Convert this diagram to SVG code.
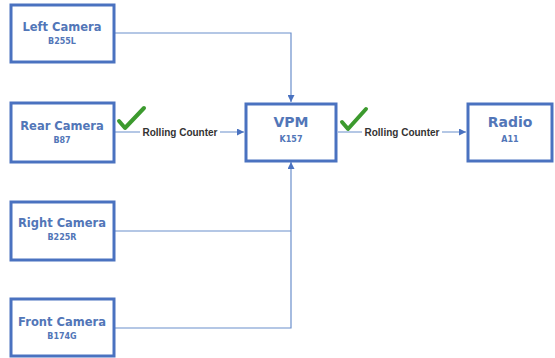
<svg xmlns="http://www.w3.org/2000/svg" width="555" height="358" viewBox="0 0 555 358">
<defs>
<style>
.box{fill:#fff;stroke:#4a72c0;stroke-width:3}
.t{font-family:"DejaVu Sans",Verdana,sans-serif;font-weight:bold;fill:#5276b8;text-anchor:middle}
.n{font-size:11.5px}
.s{font-size:8px}
.big{font-size:14px}
.c{fill:none;stroke:#6b8fcc;stroke-width:1.2}
.lbl{font-family:"Liberation Sans",Arial,sans-serif;font-weight:bold;font-size:10px;fill:#333;text-anchor:middle}
.chk{fill:none;stroke:#3c9a2e;stroke-width:4;stroke-linecap:round;stroke-linejoin:round}
</style>
<marker id="ah" viewBox="0 0 10 10" refX="10" refY="5" markerWidth="7" markerHeight="7" markerUnits="userSpaceOnUse" orient="auto">
<path d="M0,0 L10,5 L0,10 z" fill="#4a72c0"/>
</marker>
</defs>
<rect width="555" height="358" fill="#fff"/>
<g id="connectors">
<polyline class="c" points="115,33 291,33 291,102" marker-end="url(#ah)"/>
<polyline class="c" points="115,231 291,231"/>
<polyline class="c" points="115,328 291,328 291,162" marker-end="url(#ah)"/>
<line class="c" x1="115" y1="132" x2="244" y2="132" marker-end="url(#ah)"/>
<line class="c" x1="338" y1="132" x2="466" y2="132" marker-end="url(#ah)"/>
<rect x="140" y="126" width="80" height="12" fill="#fff"/>
<text class="lbl" x="180" y="136">Rolling Counter</text>
<rect x="362" y="126" width="80" height="12" fill="#fff"/>
<text class="lbl" x="402" y="136">Rolling Counter</text>
<polyline class="chk" points="119,121 125,128 144,108"/>
<polyline class="chk" points="342,122 348,129 366,109"/>
</g>
<g id="left-camera">
<rect class="box" x="11" y="5" width="103" height="57"/>
<text class="t n" x="62" y="31">Left Camera</text>
<text class="t s" x="62" y="44">B255L</text>
</g>
<g id="rear-camera">
<rect class="box" x="11" y="103" width="103" height="59"/>
<text class="t n" x="62" y="130">Rear Camera</text>
<text class="t s" x="62" y="143">B87</text>
</g>
<g id="right-camera">
<rect class="box" x="11" y="202" width="103" height="58"/>
<text class="t n" x="62" y="227">Right Camera</text>
<text class="t s" x="62" y="240">B225R</text>
</g>
<g id="front-camera">
<rect class="box" x="11" y="299" width="103" height="57"/>
<text class="t n" x="62" y="326">Front Camera</text>
<text class="t s" x="62" y="339">B174G</text>
</g>
<g id="vpm">
<rect class="box" x="246" y="104" width="90" height="57"/>
<text class="t big" x="291" y="127">VPM</text>
<text class="t s" x="291" y="142">K157</text>
</g>
<g id="radio">
<rect class="box" x="468" y="104" width="84" height="57"/>
<text class="t big" x="510" y="127">Radio</text>
<text class="t s" x="510" y="142">A11</text>
</g>
</svg>
